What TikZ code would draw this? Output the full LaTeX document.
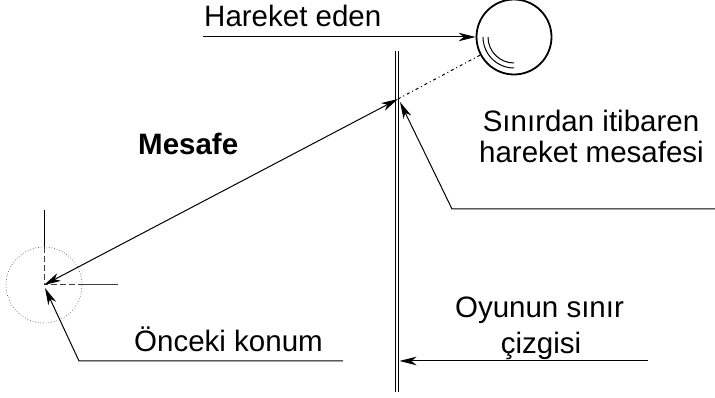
\documentclass[tikz,border=0pt]{standalone}
\usepackage{fontspec}
\setmainfont{Liberation Sans}
\usetikzlibrary{arrows.meta}
\begin{document}
\begin{tikzpicture}[x=1pt,y=1pt,
  lbl/.style={inner sep=0pt,anchor=base,font=\fontsize{29.5}{32}\selectfont},
  thin line/.style={line width=1pt},
  tip/.style={-{Stealth[length=17pt,width=8.5pt,inset=5pt]}},
  bothtips/.style={{Stealth[length=17pt,width=8.5pt,inset=5pt]}-{Stealth[length=17pt,width=8.5pt,inset=5pt]}}]
\useasboundingbox (0,0) rectangle (715,398);
% ball
\node[circle,draw,line width=1.8pt,minimum size=75pt,inner sep=0pt] (ball) at (514,361) {};
\draw[line width=1pt] (483,361) arc[start angle=180,end angle=270,radius=31];
\draw[line width=1pt] (488,361) arc[start angle=180,end angle=270,radius=26];
% boundary line
\coordinate (bt1) at (395.2,347); \coordinate (bb1) at (395.2,6);
\coordinate (bt2) at (398.2,347); \coordinate (bb2) at (398.2,6);
\draw[line width=1.3pt] (bt1) -- (bb1);
\draw[line width=1.3pt] (bt2) -- (bb2);
% points
\coordinate (P) at (398,299);
\coordinate (P2) at (400,296);
\coordinate (C) at (44,113);
\coordinate (C2) at (45,110);
% previous position
\node[circle,draw=black!60,dotted,line width=0.7pt,minimum size=76pt,inner sep=0pt] (prev) at (C) {};
\coordinate (vt) at (44,188); \coordinate (vm) at (44,151);
\coordinate (hm) at (82,113); \coordinate (he) at (118,113);
\draw[thin line] (vt) -- (vm);
\draw[thin line,dash pattern=on 6pt off 3pt,black!75] (vm) -- (C) -- (hm);
\draw[thin line,black!75] (hm) -- (he);
% Mesafe
\draw[thin line,bothtips] (C) -- (P);
\draw[thin line,dash pattern=on 3pt off 3pt on 1pt off 3pt] (P) -- (ball);
% Hareket eden
\coordinate (h0) at (203,361);
\draw[thin line,tip] (h0) -- (ball.west);
% Sinirdan leader
\coordinate (s0) at (715,189); \coordinate (s1) at (452,189);
\draw[thin line,tip] (s0) -- (s1) -- (P2);
% Onceki leader
\coordinate (o0) at (343,37); \coordinate (o1) at (79,37);
\draw[thin line,tip] (o0) -- (o1) -- (C2);
% Oyunun leader
\coordinate (y0) at (648,37); \coordinate (y1) at (399.5,37);
\draw[thin line,tip] (y0) -- (y1);
% texts
\node[lbl,anchor=base west] (t1) at (204,371) {Hareket eden};
\node[lbl,anchor=base west,font=\fontsize{29.5}{32}\selectfont\bfseries] (t2) at (138,243) {Mesafe};
\node[lbl] (t3) at (591,266) {Sınırdan itibaren};
\node[lbl] (t4) at (591.5,235) {hareket mesafesi};
\node[lbl] (t5) at (228.5,46) {Önceki konum};
\node[lbl] (t6) at (539.5,80) {Oyunun sınır};
\node[lbl] (t7) at (541,44) {çizgisi};
\end{tikzpicture}
\end{document}
